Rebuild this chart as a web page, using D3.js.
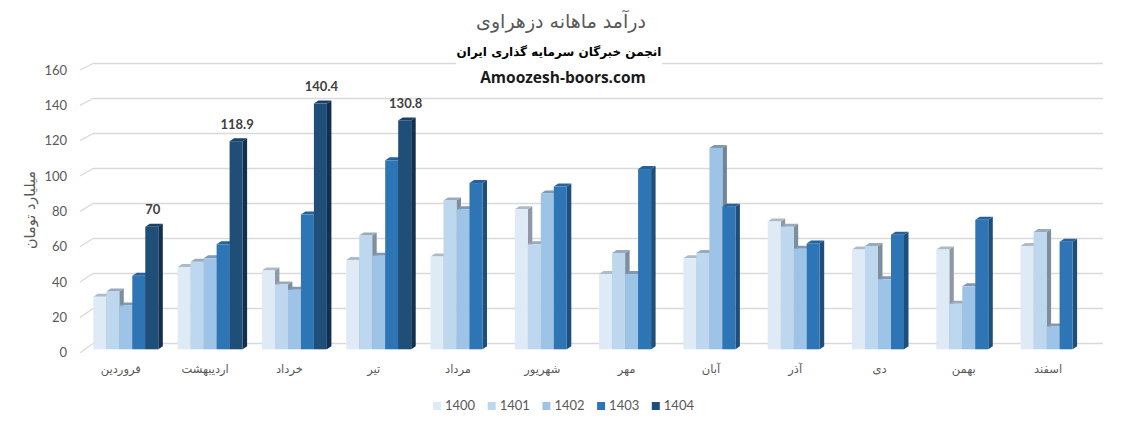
<!DOCTYPE html>
<html><head><meta charset="utf-8">
<script src="https://cdn.jsdelivr.net/npm/d3@7"></script>
<style>
body{margin:0;background:#fff;}
svg{display:block;}
</style></head>
<body><svg id="c" width="1131" height="426"></svg>
<script>
const months = ["فروردین","اردیبهشت","خرداد","تیر","مرداد","شهریور","مهر","آبان","آذر","دی","بهمن","اسفند"];
const years = ["1400","1401","1402","1403","1404"];
const s1400 = [30,47,45,51,53,80,43,52,73,57,57,59];
const s1401 = [33,50,37,65,85,60,55,55,70,59,26,67];
const s1402 = [25,52,34,53.5,80,89,43,115,57.5,40,36,13];
const s1403 = [42,60,77,108,95,93,103,81.5,60.5,65.5,74,61.5];
const s1404 = [70,118.9,140.4,130.8,null,null,null,null,null,null,null,null];
const yTicks = [0,20,40,60,80,100,120,140,160];
const labelled = [70,118.9,140.4,130.8];

const series = [s1400,s1401,s1402,s1403,s1404];
const front = ["#DEEBF7","#BDD7EE","#9DC3E6","#2E75B6","#1F4E79"];
const top_ = ["#AEBBC7","#98AABB","#8099B2","#2762A0","#1A4168"];
const side = ["#8D9AA6","#7F8E9D","#6F859A","#1F4E79","#132F4C"];

const svg = d3.select("#c");
const dx = 4.5, dy = 3;

const yFront = d3.scaleLinear().domain([0,160]).range([349.3,69.3]);
const yBack = d3.scaleLinear().domain([0,160]).range([343.5,63.5]);
const yEdge = d3.scaleLinear().domain([0,160]).range([352.7,70]);
const x0 = d3.scaleBand().domain(months).range([83.65,1095.25]).paddingInner(0.229).paddingOuter(0.1145);
const x1 = d3.scaleBand().domain(years).range([0,x0.bandwidth()]);

// gridlines (back wall + left wall diagonal)
const grid = svg.append("g").attr("stroke","#D9D9D9").attr("stroke-width",1.3).attr("fill","none");
yTicks.forEach(t=>{
  grid.append("line").attr("x1",93).attr("x2",1103).attr("y1",yBack(t)).attr("y2",yBack(t));
  grid.append("line").attr("x1",80).attr("x2",93).attr("y1",yEdge(t)).attr("y2",yBack(t));
});

// y axis labels
const ya = svg.append("g").attr("transform","translate(67,0)")
  .call(d3.axisLeft(yEdge).tickValues(yTicks).tickSize(0).tickPadding(0));
ya.select(".domain").remove();
ya.selectAll("text").attr("fill","#595959").style("font-family","Lato, 'Liberation Sans', sans-serif").style("font-size","13px");

// y axis title
svg.append("text").attr("transform","translate(31,210) rotate(-90)").attr("text-anchor","middle")
  .attr("dominant-baseline","middle").attr("fill","#595959")
  .style("font-family","'DejaVu Sans', sans-serif").style("font-size","14.5px").text("میلیارد تومان");

// bars
const bars = svg.append("g");
months.forEach((m,i)=>{
  years.forEach((yr,k)=>{
    const v = series[k][i];
    if (v==null) return;
    const x = x0(m)+x1(yr), w = x1.bandwidth();
    const yt = yFront(v), yb = yFront(0);
    const g = bars.append("g");
    g.append("path").attr("fill",side[k])
      .attr("d",`M${x+w},${yb}L${x+w+dx},${yb-dy}L${x+w+dx},${yt-dy}L${x+w},${yt}Z`);
    g.append("path").attr("fill",top_[k])
      .attr("d",`M${x},${yt}L${x+dx},${yt-dy}L${x+w+dx},${yt-dy}L${x+w},${yt}Z`);
    g.append("rect").attr("fill",front[k]).attr("x",x).attr("y",yt).attr("width",w).attr("height",yb-yt);
    if (k===4 && labelled.includes(v)) {
      svg.append("text").attr("x",x+w/2+1).attr("y",yt-16).attr("text-anchor","middle")
        .attr("dominant-baseline","middle").attr("fill","#404040")
        .style("font-family","Lato, 'Liberation Sans', sans-serif").style("font-weight","bold").style("font-size","13px")
        .text(String(v));
    }
  });
});

// x axis labels
const xa = svg.append("g").attr("transform","translate(-5,364)")
  .call(d3.axisBottom(x0).tickSize(0).tickPadding(0));
xa.select(".domain").remove();
xa.selectAll("text").attr("fill","#595959").attr("dy","0.8em")
  .style("font-family","'DejaVu Sans', sans-serif").style("font-size","11.5px");

// titles
svg.append("text").attr("x",561).attr("y",22).attr("text-anchor","middle").attr("dominant-baseline","middle")
  .attr("fill","#595959").style("font-family","'DejaVu Sans', sans-serif").style("font-size","19px")
  .text("درآمد ماهانه دزهراوی");
svg.append("rect").attr("x",456).attr("y",41).attr("width",206).attr("height",24).attr("fill","#fff");
svg.append("text").attr("x",559).attr("y",52).attr("text-anchor","middle").attr("dominant-baseline","middle")
  .attr("fill","#000").style("font-family","'DejaVu Sans', sans-serif").style("font-weight","bold").style("font-size","12px")
  .text("انجمن خبرگان سرمایه گذاری ایران");
svg.append("text").attr("x",563).attr("y",79).attr("text-anchor","middle").attr("dominant-baseline","middle")
  .attr("fill","#1a1a1a").style("font-family","'Open Sans', sans-serif").style("font-weight","bold").style("font-size","15.5px")
  .text("Amoozesh-boors.com");

// legend
const lg = svg.append("g");
years.forEach((yr,k)=>{
  const lx = 433 + k*54.7;
  lg.append("rect").attr("x",lx).attr("y",402).attr("width",8).attr("height",8).attr("fill",front[k]);
  lg.append("text").attr("x",lx+12).attr("y",406.5).attr("dominant-baseline","middle").attr("fill","#595959")
    .style("font-family","Lato, 'Liberation Sans', sans-serif").style("font-size","13px").text(yr);
});
</script></body></html>
